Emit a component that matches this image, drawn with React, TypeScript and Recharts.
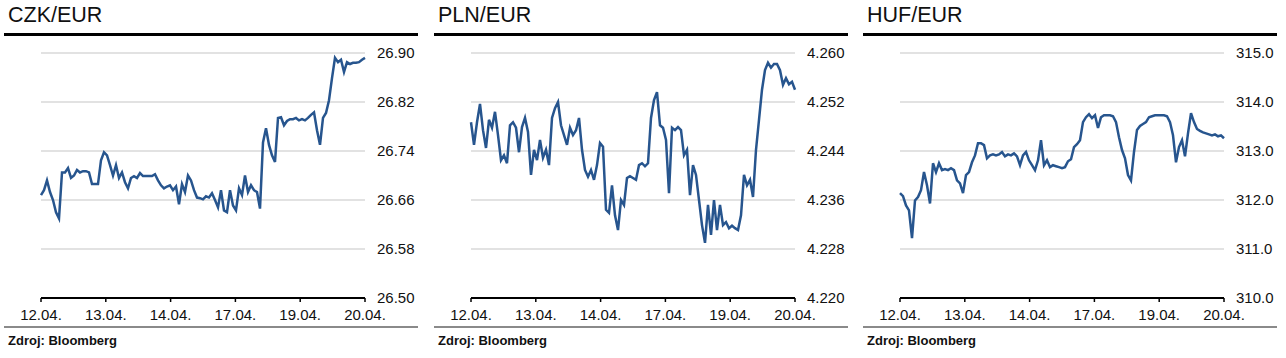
import React from 'react';
import { LineChart, Line, XAxis, YAxis, CartesianGrid } from 'recharts';

const X_LABELS = ['12.04.', '13.04.', '14.04.', '17.04.', '19.04.', '20.04.'];

const CZK_TICKS = [26.5, 26.58, 26.66, 26.74, 26.82, 26.9];
const PLN_TICKS = [4.22, 4.228, 4.236, 4.244, 4.252, 4.26];
const HUF_TICKS = [310, 311, 312, 313, 314, 315];

const CZK_VALUES = [
  26.668, 26.676, 26.692, 26.673, 26.660, 26.640, 26.630, 26.705, 26.705, 26.712,
  26.696, 26.700, 26.709, 26.705, 26.707, 26.707, 26.705, 26.686, 26.686, 26.686,
  26.725, 26.738, 26.733, 26.717, 26.700, 26.717, 26.696, 26.705, 26.689, 26.679,
  26.696, 26.699, 26.696, 26.704, 26.699, 26.699, 26.699, 26.699, 26.702, 26.692,
  26.684, 26.679, 26.682, 26.684, 26.676, 26.682, 26.653, 26.686, 26.673, 26.700,
  26.692, 26.676, 26.664, 26.663, 26.661, 26.666, 26.664, 26.671, 26.660, 26.648,
  26.676, 26.643, 26.640, 26.676, 26.651, 26.643, 26.679, 26.668, 26.700, 26.673,
  26.684, 26.676, 26.673, 26.646, 26.754, 26.777, 26.750, 26.733, 26.722, 26.794,
  26.795, 26.782, 26.789, 26.792, 26.792, 26.794, 26.790, 26.792, 26.790, 26.794,
  26.799, 26.803, 26.774, 26.750, 26.794, 26.802, 26.823, 26.859, 26.892, 26.885,
  26.889, 26.869, 26.885, 26.882, 26.884, 26.884, 26.885, 26.889, 26.892,
];

const PLN_VALUES = [
  4.2487, 4.2450, 4.2487, 4.2517, 4.2474, 4.2445, 4.2491, 4.2478, 4.2504, 4.2466,
  4.2425, 4.2433, 4.2420, 4.2482, 4.2487, 4.2478, 4.2438, 4.2479, 4.2494, 4.2471,
  4.2401, 4.2442, 4.2425, 4.2458, 4.2429, 4.2442, 4.2417, 4.2494, 4.2510, 4.2520,
  4.2482, 4.2466, 4.2450, 4.2478, 4.2466, 4.2474, 4.2494, 4.2442, 4.2409, 4.2398,
  4.2409, 4.2393, 4.2417, 4.2453, 4.2447, 4.2344, 4.2339, 4.2384, 4.2335, 4.2311,
  4.2360, 4.2352, 4.2396, 4.2399, 4.2396, 4.2393, 4.2417, 4.2420, 4.2415, 4.2420,
  4.2494, 4.2523, 4.2536, 4.2482, 4.2478, 4.2458, 4.2371, 4.2478, 4.2474, 4.2479,
  4.2474, 4.2433, 4.2442, 4.2368, 4.2417, 4.2401, 4.2360, 4.2319, 4.2290, 4.2352,
  4.2303, 4.2360, 4.2311, 4.2352, 4.2319, 4.2324, 4.2314, 4.2318, 4.2314, 4.2311,
  4.2335, 4.2401, 4.2384, 4.2393, 4.2365, 4.2442, 4.2491, 4.2540, 4.2572, 4.2584,
  4.2576, 4.2582, 4.2582, 4.2572, 4.2548, 4.2559, 4.2549, 4.2553, 4.2540,
];

const HUF_VALUES = [
  312.14, 312.08, 311.89, 311.79, 311.22, 311.99, 312.06, 312.20, 312.57, 312.30,
  311.93, 312.75, 312.57, 312.75, 312.61, 312.63, 312.61, 312.65, 312.61, 312.40,
  312.34, 312.14, 312.51, 312.57, 312.77, 312.91, 313.16, 313.16, 313.12, 312.85,
  312.91, 312.93, 312.91, 312.93, 312.98, 312.89, 312.93, 312.91, 312.95, 312.89,
  312.71, 312.91, 312.98, 312.81, 312.71, 312.61, 312.81, 313.22, 312.71, 312.81,
  312.67, 312.71, 312.69, 312.67, 312.65, 312.67, 312.79, 312.83, 313.08, 313.14,
  313.22, 313.59, 313.69, 313.75, 313.67, 313.73, 313.47, 313.69, 313.73, 313.73,
  313.73, 313.71, 313.59, 313.28, 313.02, 312.85, 312.51, 312.40, 312.98, 313.43,
  313.51, 313.55, 313.59, 313.69, 313.71, 313.73, 313.73, 313.73, 313.73, 313.71,
  313.59, 313.32, 312.77, 313.08, 313.22, 312.89, 313.36, 313.77, 313.59, 313.45,
  313.41, 313.38, 313.36, 313.34, 313.32, 313.34, 313.30, 313.32, 313.26,
];

const LINE_COLOR = '#27558e';
const TEXT_COLOR = '#111111';

type PanelProps = {
  left: number;
  title: string;
  values: number[];
  ticks: number[];
  digits: number;
};

function Panel({ left, title, values, ticks, digits }: PanelProps) {
  const data = values.map((v, i) => ({ i, v }));
  const n = values.length - 1;
  const xTicks = X_LABELS.map((_, k) => (n * k) / (X_LABELS.length - 1));
  const xFormat = (v: number) => {
    const idx = xTicks.findIndex((t) => Math.abs(t - v) < 1e-6);
    return idx >= 0 ? X_LABELS[idx] : '';
  };
  return (
    <div style={{ position: 'absolute', left, top: 0, width: 430, height: 358 }}>
      <div
        style={{
          position: 'absolute',
          left: 8,
          top: 5,
          fontSize: 21.5,
          lineHeight: '21.5px',
          color: '#111',
          whiteSpace: 'nowrap',
        }}
      >
        {title}
      </div>
      <div style={{ position: 'absolute', left: 4, top: 33, width: 414, height: 2.5, background: '#000' }} />
      <div style={{ position: 'absolute', left: 0, top: 0 }}>
        <LineChart
          width={430}
          height={358}
          data={data}
          margin={{ top: 53, right: 5, bottom: 30, left: 41 }}
        >
          <CartesianGrid horizontal vertical={false} stroke="#d9d9d9" strokeWidth={1.5} />
          <XAxis
            dataKey="i"
            type="number"
            domain={[0, n]}
            ticks={xTicks}
            interval={0}
            tickFormatter={xFormat}
            axisLine={{ stroke: '#000', strokeWidth: 2 }}
            tickLine={{ stroke: '#000', strokeWidth: 1.5 }}
            tickSize={4}
            tickMargin={7}
            height={30}
            tick={{ fill: TEXT_COLOR, fontSize: 15 }}
          />
          <YAxis
            orientation="right"
            type="number"
            domain={[ticks[0], ticks[ticks.length - 1]]}
            ticks={ticks}
            interval={0}
            tickFormatter={(v: number) => v.toFixed(digits)}
            axisLine={false}
            tickLine={false}
            tickSize={0}
            tickMargin={12}
            width={60}
            tick={{ fill: TEXT_COLOR, fontSize: 15 }}
          />
          <Line
            type="linear"
            dataKey="v"
            stroke={LINE_COLOR}
            strokeWidth={2.5}
            strokeLinejoin="miter"
            dot={false}
            activeDot={false}
            isAnimationActive={false}
          />
        </LineChart>
      </div>
      <div style={{ position: 'absolute', left: 4, top: 326, width: 414, height: 2, background: '#8a8a8a' }} />
      <div
        style={{
          position: 'absolute',
          left: 8,
          top: 334,
          fontSize: 13,
          lineHeight: '13px',
          fontWeight: 'bold',
          color: '#111',
          whiteSpace: 'nowrap',
        }}
      >
        Zdroj: Bloomberg
      </div>
    </div>
  );
}

export default function App() {
  return (
    <div
      style={{
        position: 'absolute',
        left: 0,
        top: 0,
        width: 1286,
        height: 358,
        background: '#fff',
        fontFamily: '"Liberation Sans", Arial, sans-serif',
        overflow: 'hidden',
      }}
    >
      <Panel left={0} title="CZK/EUR" values={CZK_VALUES} ticks={CZK_TICKS} digits={2} />
      <Panel left={430} title="PLN/EUR" values={PLN_VALUES} ticks={PLN_TICKS} digits={3} />
      <Panel left={859} title="HUF/EUR" values={HUF_VALUES} ticks={HUF_TICKS} digits={1} />
    </div>
  );
}
